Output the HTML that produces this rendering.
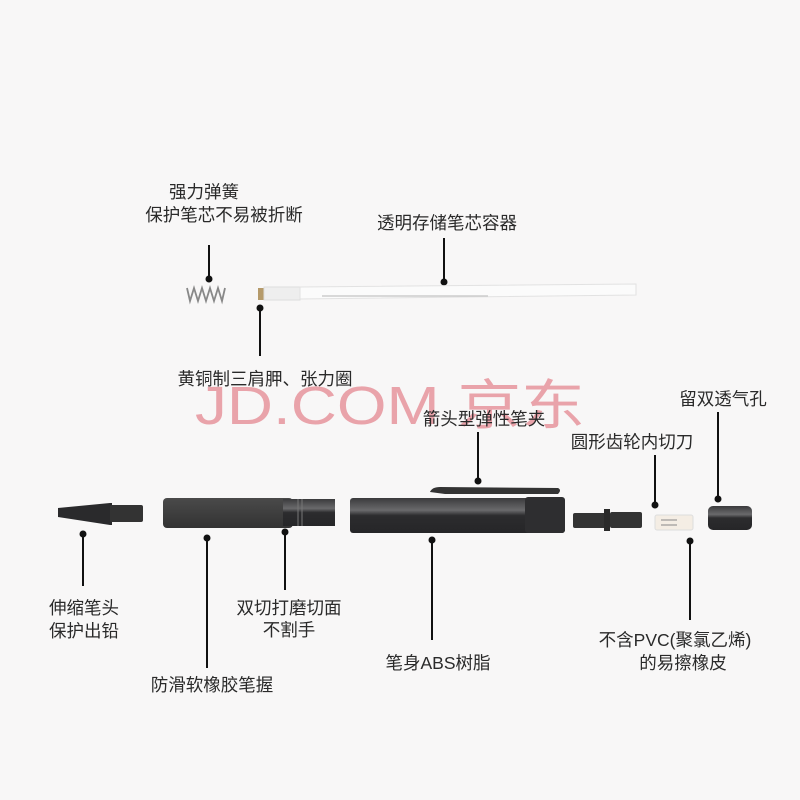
<!DOCTYPE html>
<html><head><meta charset="utf-8"><style>
html,body{margin:0;padding:0;background:#f8f7f7;}
svg{display:block}
text{font-family:"Liberation Sans","Noto Sans CJK SC",sans-serif;font-size:17.5px;fill:#2a2a2a;}
</style></head><body>
<svg width="800" height="800" viewBox="0 0 800 800" xmlns="http://www.w3.org/2000/svg">
<rect width="800" height="800" fill="#f8f7f7"/>
<defs>
<linearGradient id="dk" x1="0" y1="0" x2="0" y2="1">
<stop offset="0" stop-color="#3a3a3c"/><stop offset="0.35" stop-color="#6a6a6c"/><stop offset="0.5" stop-color="#2c2c2e"/><stop offset="1" stop-color="#262628"/>
</linearGradient>
<linearGradient id="gr" x1="0" y1="0" x2="0" y2="1">
<stop offset="0" stop-color="#4a4a4a"/><stop offset="1" stop-color="#333"/>
</linearGradient>
</defs>
<!-- watermark -->
<text x="195" y="424" textLength="390" lengthAdjust="spacingAndGlyphs" style="font-size:54px;fill:#e9a3aa">JD.COM 京东</text>

<!-- top labels -->
<text x="204" y="198" text-anchor="middle">强力弹簧</text>
<text x="224" y="221" text-anchor="middle">保护笔芯不易被折断</text>
<text x="447" y="229" text-anchor="middle">透明存储笔芯容器</text>
<text x="265" y="385" text-anchor="middle">黄铜制三肩胛、张力圈</text>
<text x="484" y="425" text-anchor="middle">箭头型弹性笔夹</text>
<text x="723" y="405" text-anchor="middle">留双透气孔</text>
<text x="632" y="448" text-anchor="middle">圆形齿轮内切刀</text>

<!-- bottom labels -->
<text x="84" y="614" text-anchor="middle">伸缩笔头</text>
<text x="84" y="637" text-anchor="middle">保护出铅</text>
<text x="289" y="614" text-anchor="middle">双切打磨切面</text>
<text x="289" y="636" text-anchor="middle">不割手</text>
<text x="212" y="691" text-anchor="middle">防滑软橡胶笔握</text>
<text x="438" y="669" text-anchor="middle">笔身ABS树脂</text>
<text x="675" y="646" text-anchor="middle">不含PVC(聚氯乙烯)</text>
<text x="683" y="669" text-anchor="middle">的易擦橡皮</text>

<!-- connectors -->
<g stroke="#111" stroke-width="2">
<line x1="209" y1="245" x2="209" y2="279"/>
<line x1="444" y1="238" x2="444" y2="282"/>
<line x1="260" y1="308" x2="260" y2="356"/>
<line x1="478" y1="432" x2="478" y2="481"/>
<line x1="718" y1="412" x2="718" y2="499"/>
<line x1="655" y1="455" x2="655" y2="505"/>
<line x1="83" y1="534" x2="83" y2="586"/>
<line x1="207" y1="538" x2="207" y2="668"/>
<line x1="285" y1="532" x2="285" y2="590"/>
<line x1="432" y1="540" x2="432" y2="640"/>
<line x1="690" y1="541" x2="690" y2="620"/>
</g>
<g fill="#111">
<circle cx="209" cy="279" r="3.5"/><circle cx="444" cy="282" r="3.5"/><circle cx="260" cy="308" r="3.5"/>
<circle cx="478" cy="481" r="3.5"/><circle cx="718" cy="499" r="3.5"/><circle cx="655" cy="505" r="3.5"/>
<circle cx="83" cy="534" r="3.5"/><circle cx="207" cy="538" r="3.5"/><circle cx="285" cy="532" r="3.5"/>
<circle cx="432" cy="540" r="3.5"/><circle cx="690" cy="541" r="3.5"/>
</g>

<!-- spring -->
<polyline points="187,288 190,301 194,288 198,301 202,288 206,301 210,288 214,301 218,288 222,301 225,288" fill="none" stroke="#888" stroke-width="1.8"/>
<!-- tube -->
<rect x="258" y="288" width="6" height="12" fill="#b59a6a"/>
<rect x="264" y="287" width="36" height="13" fill="#eee" stroke="#ddd"/>
<polygon points="300,287 636,284 636,295 300,299" fill="#fbfbfb" stroke="#e2e2e2"/>
<line x1="322" y1="296" x2="488" y2="296" stroke="#ccc" stroke-width="1.5"/>

<!-- tip -->
<path d="M58,508 L110,503 L112,503 L112,525 L110,525 L58,517 Z" fill="#2a2a2c"/>
<rect x="110" y="505" width="33" height="17" rx="2" fill="#333"/>
<!-- grip -->
<rect x="163" y="498" width="130" height="30" rx="4" fill="url(#gr)"/>
<rect x="283" y="499" width="52" height="27" fill="url(#dk)"/>
<line x1="298" y1="499" x2="298" y2="526" stroke="#777"/>
<line x1="302" y1="499" x2="302" y2="526" stroke="#777"/>
<!-- body -->
<rect x="350" y="498" width="215" height="35" rx="3" fill="url(#dk)"/>
<rect x="525" y="497" width="40" height="36" rx="3" fill="#2e2e30"/>
<path d="M430,492 Q432,487 440,487 L558,488 Q562,490 558,494 L445,494 Z" fill="#333"/>
<!-- inner -->
<rect x="573" y="513" width="35" height="15" rx="2" fill="#333"/>
<rect x="604" y="509" width="6" height="22" fill="#2a2a2a"/>
<rect x="610" y="512" width="32" height="16" rx="2" fill="#333"/>
<!-- eraser -->
<rect x="655" y="515" width="38" height="15" rx="2" fill="#f4ede4" stroke="#ddd"/>
<line x1="661" y1="520" x2="677" y2="520" stroke="#888"/>
<line x1="661" y1="525" x2="677" y2="525" stroke="#888"/>
<!-- cap -->
<rect x="708" y="506" width="44" height="24" rx="5" fill="url(#dk)"/>
</svg>
</body></html>
